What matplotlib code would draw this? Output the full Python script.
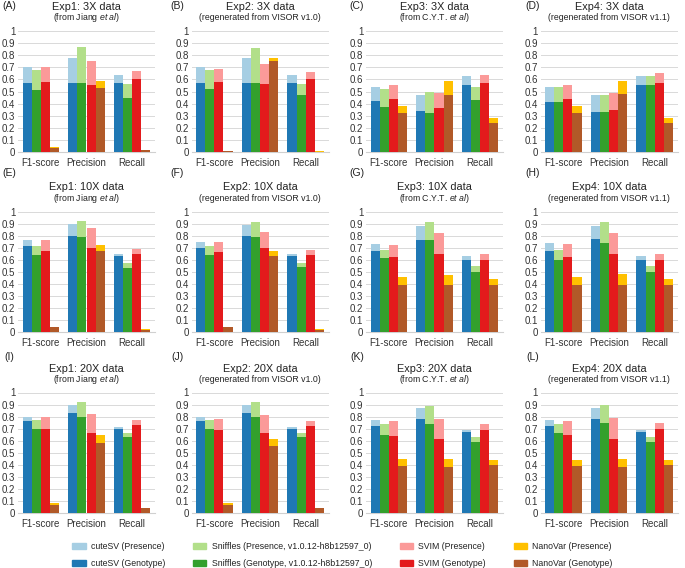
import numpy as np
import matplotlib
matplotlib.use("Agg")
import matplotlib.pyplot as plt
from matplotlib.patches import Patch

plt.rcParams['font.family'] = ['Liberation Sans', 'DejaVu Sans']
plt.rcParams['mathtext.fontset'] = 'custom'
plt.rcParams['mathtext.rm'] = 'Liberation Sans'
plt.rcParams['mathtext.it'] = 'Liberation Sans:italic'

# groups on the x axis
metrics = ['F1-score', 'Precision', 'Recall']
yticks = [0, 0.1, 0.2, 0.3, 0.4, 0.5, 0.6, 0.7, 0.8, 0.9, 1]
ylabels = ['0', '0.1', '0.2', '0.3', '0.4', '0.5', '0.6', '0.7', '0.8', '0.9', '1']

panel_tags = ['(A)', '(B)', '(C)', '(D)', '(E)', '(F)', '(G)', '(H)', '(I)', '(J)', '(K)', '(L)']
titles = ['Exp1: 3X data', 'Exp2: 3X data', 'Exp3: 3X data', 'Exp4: 3X data',
          'Exp1: 10X data', 'Exp2: 10X data', 'Exp3: 10X data', 'Exp4: 10X data',
          'Exp1: 20X data', 'Exp2: 20X data', 'Exp3: 20X data', 'Exp4: 20X data']
sources = [r'(from Jiang $et\ al$)', '(regenerated from VISOR v1.0)',
           r'(from C.Y.T. $et\ al$)', '(regenerated from VISOR v1.1)']

# one row per panel A..L, columns = F1-score, Precision, Recall
cutesv_pres = [[0.70, 0.78, 0.64], [0.70, 0.78, 0.64], [0.54, 0.47, 0.63], [0.54, 0.47, 0.63],
               [0.76, 0.90, 0.65], [0.75, 0.89, 0.65], [0.73, 0.88, 0.63], [0.74, 0.88, 0.63],
               [0.80, 0.90, 0.71], [0.80, 0.90, 0.71], [0.77, 0.87, 0.69], [0.77, 0.87, 0.69]]
cutesv_geno = [[0.57, 0.57, 0.57], [0.57, 0.57, 0.57], [0.42, 0.34, 0.55], [0.41, 0.33, 0.55],
               [0.71, 0.80, 0.63], [0.70, 0.80, 0.63], [0.67, 0.76, 0.60], [0.67, 0.77, 0.60],
               [0.76, 0.83, 0.70], [0.76, 0.83, 0.70], [0.72, 0.78, 0.67], [0.72, 0.78, 0.67]]
sniffles_pres = [[0.68, 0.87, 0.56], [0.68, 0.86, 0.56], [0.52, 0.50, 0.54], [0.54, 0.47, 0.63],
                 [0.71, 0.92, 0.57], [0.71, 0.91, 0.57], [0.68, 0.91, 0.55], [0.68, 0.91, 0.55],
                 [0.77, 0.92, 0.66], [0.77, 0.92, 0.66], [0.74, 0.89, 0.63], [0.74, 0.90, 0.63]]
sniffles_geno = [[0.51, 0.57, 0.45], [0.52, 0.57, 0.47], [0.37, 0.32, 0.43], [0.41, 0.33, 0.55],
                 [0.64, 0.79, 0.53], [0.64, 0.79, 0.54], [0.61, 0.76, 0.50], [0.60, 0.74, 0.50],
                 [0.70, 0.80, 0.63], [0.70, 0.80, 0.63], [0.65, 0.74, 0.59], [0.66, 0.75, 0.59]]
svim_pres = [[0.70, 0.75, 0.67], [0.69, 0.73, 0.66], [0.55, 0.49, 0.64], [0.55, 0.49, 0.65],
             [0.76, 0.86, 0.69], [0.75, 0.83, 0.68], [0.72, 0.82, 0.65], [0.73, 0.82, 0.65],
             [0.80, 0.82, 0.77], [0.78, 0.81, 0.76], [0.76, 0.78, 0.74], [0.76, 0.79, 0.75]]
svim_geno = [[0.58, 0.55, 0.60], [0.58, 0.56, 0.60], [0.44, 0.36, 0.57], [0.44, 0.35, 0.57],
             [0.67, 0.70, 0.65], [0.66, 0.70, 0.64], [0.62, 0.65, 0.60], [0.62, 0.65, 0.60],
             [0.70, 0.66, 0.73], [0.69, 0.66, 0.72], [0.64, 0.61, 0.69], [0.65, 0.61, 0.70]]
nanovar_pres = [[0.04, 0.59, 0.016], [0.012, 0.78, 0.006], [0.38, 0.59, 0.28], [0.38, 0.59, 0.285],
                [0.045, 0.72, 0.024], [0.045, 0.67, 0.022], [0.46, 0.47, 0.44], [0.46, 0.48, 0.44],
                [0.08, 0.645, 0.045], [0.08, 0.61, 0.045], [0.45, 0.45, 0.44], [0.44, 0.45, 0.44]]
nanovar_geno = [[0.035, 0.53, 0.014], [0.01, 0.75, 0.004], [0.32, 0.47, 0.24], [0.32, 0.48, 0.24],
                [0.042, 0.67, 0.018], [0.042, 0.63, 0.019], [0.39, 0.39, 0.39], [0.39, 0.39, 0.39],
                [0.07, 0.585, 0.039], [0.07, 0.56, 0.039], [0.39, 0.38, 0.40], [0.39, 0.38, 0.40]]

tools = ['cuteSV', 'Sniffles', 'SVIM', 'NanoVar']
tool_suffix = ['', ', v1.0.12-h8b12597_0', '', '']
pres_data = [cutesv_pres, sniffles_pres, svim_pres, nanovar_pres]
geno_data = [cutesv_geno, sniffles_geno, svim_geno, nanovar_geno]
pres_colors = ['#a6cee3', '#b2df8a', '#fb9a99', '#ffc000']
geno_colors = ['#1f78b4', '#33a02c', '#e31a1c', '#b15928']

W, H = 685, 568
fig = plt.figure(figsize=(W / 100, H / 100), dpi=100)

col_left = [18, 191.5, 366, 540.5]
row_top = [31, 211.5, 392.5]
row_bot = [152, 332, 513]
tag_x = [9, 177, 357, 533]
tag_y = [6, 173, 357]
ax_w = 137

x = np.arange(len(metrics))
bw = 0.2
for p in range(12):
    r, c = divmod(p, 4)
    ax = fig.add_axes([col_left[c] / W, 1 - row_bot[r] / H, ax_w / W, (row_bot[r] - row_top[r]) / H])
    for t in range(4):
        off = (t - 1.5) * bw
        ax.bar(x + off, pres_data[t][p], bw, color=pres_colors[t], zorder=2)
        ax.bar(x + off, geno_data[t][p], bw, color=geno_colors[t], zorder=3)
    ax.set_xlim(-0.5, 2.5)
    ax.set_ylim(0, 1)
    ax.set_yticks(yticks)
    ax.set_yticklabels(ylabels)
    ax.set_xticks(x)
    ax.set_xticklabels(metrics)
    ax.tick_params(length=0, labelsize=7, colors='#333333')
    ax.tick_params(axis='y', pad=2)
    ax.tick_params(axis='x', pad=4.5)
    ax.grid(axis='y', color='#d9d9d9', linewidth=0.7, zorder=0)
    ax.set_axisbelow(True)
    for s in ['top', 'left', 'right']:
        ax.spines[s].set_visible(False)
    ax.spines['bottom'].set_color('#d0d0d0')
    ax.spines['bottom'].set_linewidth(0.8)

    cx = (col_left[c] + ax_w / 2) / W
    fig.text(cx, 1 - (row_top[r] - 24) / H, titles[p], ha='center', va='center',
             fontsize=7.8, color='#222222')
    fig.text(cx, 1 - (row_top[r] - 13) / H, sources[c], ha='center', va='center',
             fontsize=6.3, color='#222222')
    fig.text(tag_x[c] / W, 1 - tag_y[r] / H, panel_tags[p], ha='center', va='center',
             fontsize=7.5, color='#222222')

handles = []
for t in range(4):
    handles.append(Patch(color=pres_colors[t], label=tools[t] + ' (Presence' + tool_suffix[t] + ')'))
    handles.append(Patch(color=geno_colors[t], label=tools[t] + ' (Genotype' + tool_suffix[t] + ')'))
leg = fig.legend(handles=handles, ncol=4, loc='center', bbox_to_anchor=(0.5, 1 - 555 / H),
                 frameon=False, fontsize=6.3, handlelength=1.5, handleheight=0.8,
                 handletextpad=0.6, columnspacing=3.2, labelspacing=0.9)
for txt in leg.get_texts():
    txt.set_color('#222222')

fig.savefig('out.png', dpi=100)
